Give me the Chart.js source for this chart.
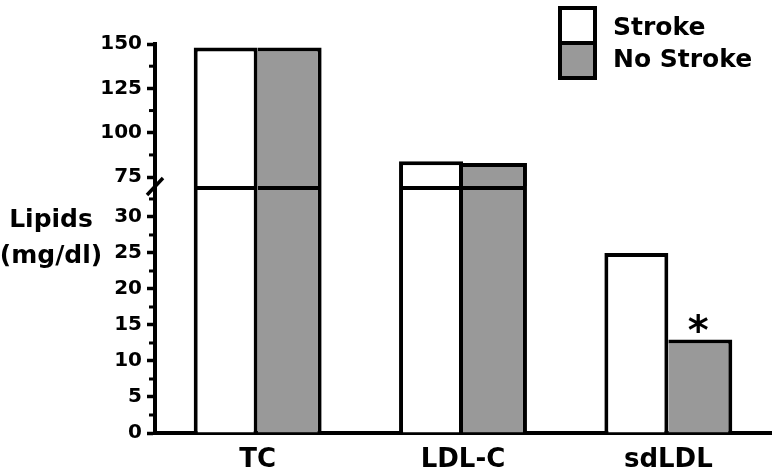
<!DOCTYPE html>
<html><head><meta charset="utf-8">
<script src="https://cdn.jsdelivr.net/npm/chart.js@4/dist/chart.umd.min.js"></script>
<style>html,body{margin:0;padding:0;background:#fff}</style>
</head><body>
<canvas id="c" width="780" height="471"></canvas>
<script>
const categories = ['TC', 'LDL-C', 'sdLDL'];
const seriesNames = ['Stroke', 'No Stroke'];
const strokeValues = [148, 84, 25];
const noStrokeValues = [148, 83, 13];
const significance = ['', '', '*'];          // marks above the No Stroke bars
const lowTicks = [0, 5, 10, 15, 20, 25, 30];
const highTicks = [75, 100, 125, 150];
const lowMinorTicks = [2.5, 7.5, 12.5, 17.5, 22.5, 27.5, 32.5];
const highMinorTicks = [87.5, 112.5, 137.5];
const lowMax = 34.3;   // top of lower axis segment (break)
const highMin = 70;    // bottom of upper axis segment (break)
const highMax = 150;
const yTitle = ['Lipids', '(mg/dl)'];

const FONT = "'DejaVu Sans', sans-serif";
const GRAY = '#999999';
const BW = 4;

const lowPart = vals => vals.map(v => Math.min(v, lowMax));
const highPart = vals => vals.map(v => v > lowMax ? [highMin, v] : null);

const strokeStyle = {backgroundColor: '#ffffff', borderColor: '#000', borderSkipped: false, stack: 's'};
const noStyle = {backgroundColor: GRAY, borderColor: '#000', borderSkipped: false, stack: 'n'};

const decorations = {
  id: 'decorations',
  afterDraw(chart) {
    const ctx = chart.ctx;
    const yLow = chart.scales.yLow, yHigh = chart.scales.yHigh;
    const axisX = yLow.right;
    ctx.save();
    ctx.strokeStyle = '#000';
    ctx.lineWidth = 3;
    const drawMinor = (scale, vals) => vals.forEach(v => {
      const y = scale.getPixelForValue(v);
      ctx.beginPath(); ctx.moveTo(axisX - 6, y); ctx.lineTo(axisX, y); ctx.stroke();
    });
    drawMinor(yLow, lowMinorTicks);
    drawMinor(yHigh, highMinorTicks);
    // axis break mark
    const by = yHigh.bottom;
    ctx.lineWidth = 3.5;
    ctx.beginPath(); ctx.moveTo(axisX - 8, by + 9); ctx.lineTo(axisX + 8, by - 8); ctx.stroke();
    // horizontal y-axis title
    ctx.fillStyle = '#000';
    ctx.font = `bold 25px ${FONT}`;
    ctx.textAlign = 'center';
    ctx.textBaseline = 'alphabetic';
    ctx.fillText(yTitle[0], 51, 227);
    ctx.fillText(yTitle[1], 51, 263);
    // significance marks
    const meta = chart.getDatasetMeta(1);
    ctx.font = `bold 40px ${FONT}`;
    significance.forEach((s, i) => {
      if (!s) return;
      const bar = meta.data[i];
      const m = ctx.measureText(s);
      const cy = bar.y - 16;
      const off = (m.actualBoundingBoxAscent - m.actualBoundingBoxDescent) / 2;
      ctx.fillText(s, bar.x - 2, cy + off);
    });
    // legend
    const lx = 560, ly = 8, lw = 35, lh = 70;
    ctx.fillStyle = strokeStyle.backgroundColor;
    ctx.fillRect(lx, ly, lw, lh / 2);
    ctx.fillStyle = noStyle.backgroundColor;
    ctx.fillRect(lx, ly + lh / 2, lw, lh / 2);
    ctx.lineWidth = 4;
    ctx.strokeRect(lx, ly, lw, lh);
    ctx.beginPath(); ctx.moveTo(lx, ly + lh / 2); ctx.lineTo(lx + lw, ly + lh / 2); ctx.stroke();
    ctx.fillStyle = '#000';
    ctx.font = `bold 25px ${FONT}`;
    ctx.textAlign = 'left';
    ctx.fillText(seriesNames[0], 613, 35);
    ctx.fillText(seriesNames[1], 613, 67);
    ctx.restore();
  }
};

const yCommon = {
  type: 'linear',
  position: 'left',
  stack: 'y',
  stacked: false,
  grid: {display: true, drawOnChartArea: false, drawTicks: true, tickLength: 8, tickWidth: 3.5, tickColor: '#000'},
  border: {display: true, color: '#000', width: BW},
  ticks: {color: '#000', font: {family: FONT, size: 20, weight: 'bold'}, padding: 5, autoSkip: false},
  afterFit(s) { s.width = 155; }
};

new Chart(document.getElementById('c'), {
  type: 'bar',
  data: {
    labels: categories,
    datasets: [
      {label: seriesNames[0], data: lowPart(strokeValues), yAxisID: 'yLow', ...strokeStyle,
       borderWidth: {top: BW, left: BW, right: BW, bottom: 0}},
      {label: seriesNames[1], data: lowPart(noStrokeValues), yAxisID: 'yLow', ...noStyle,
       borderWidth: {top: BW, left: 0, right: BW, bottom: 0}},
      {label: seriesNames[0], data: highPart(strokeValues), yAxisID: 'yHigh', ...strokeStyle,
       borderWidth: {top: BW, left: BW, right: BW, bottom: 0}},
      {label: seriesNames[1], data: highPart(noStrokeValues), yAxisID: 'yHigh', ...noStyle,
       borderWidth: {top: BW, left: 0, right: BW, bottom: 0}}
    ]
  },
  options: {
    responsive: false,
    animation: false,
    layout: {padding: {top: 44, right: 9, bottom: 0, left: 0}},
    datasets: {bar: {barPercentage: 1, categoryPercentage: 0.623}},
    plugins: {legend: {display: false}, tooltip: {enabled: false}},
    scales: {
      x: {
        type: 'category',
        offset: true,
        grid: {display: false},
        border: {display: true, color: '#000', width: BW},
        ticks: {color: '#000', font: {family: FONT, size: 26, weight: 'bold'}, padding: 4},
        afterFit(s) { s.height = 38; }
      },
      yLow: {...yCommon, stackWeight: 247, min: 0, max: lowMax,
        afterBuildTicks(s) { s.ticks = lowTicks.map(v => ({value: v})); }},
      yHigh: {...yCommon, stackWeight: 142, min: highMin, max: highMax,
        afterBuildTicks(s) { s.ticks = highTicks.map(v => ({value: v})); }}
    }
  },
  plugins: [decorations]
});
</script>
</body></html>
